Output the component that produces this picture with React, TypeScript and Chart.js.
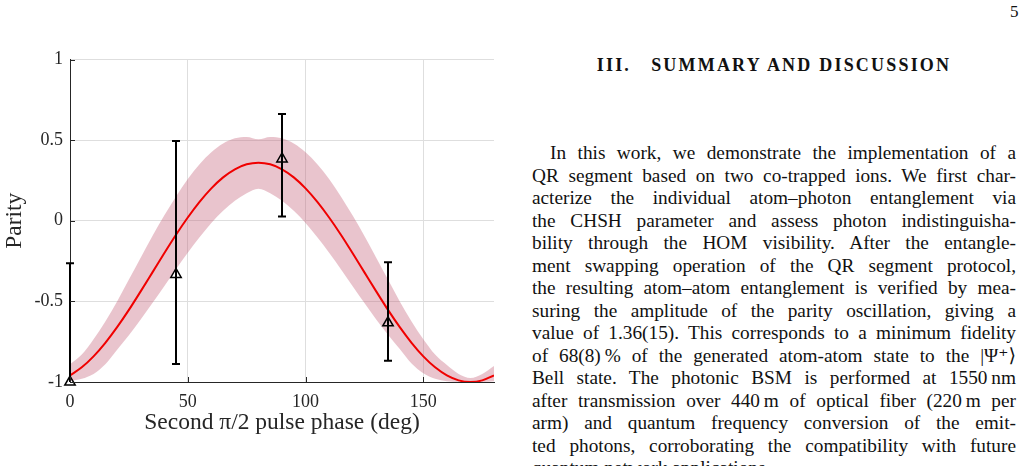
import React, { useEffect, useRef } from "react";
import { Chart, registerables } from "chart.js";

Chart.register(...registerables);

// ---- data ----
const fitX = [0, 5, 10, 15, 20, 25, 30, 35, 40, 45, 50, 55, 60, 65, 70, 75, 80, 85, 90, 95, 100, 105, 110, 115, 120, 125, 130, 135, 140, 145, 150, 155, 160, 165, 170, 175, 180];
const fitY = [-0.959, -0.909, -0.841, -0.757, -0.66, -0.553, -0.438, -0.32, -0.202, -0.087, 0.02, 0.117, 0.201, 0.269, 0.319, 0.35, 0.36, 0.35, 0.319, 0.269, 0.201, 0.117, 0.02, -0.087, -0.202, -0.32, -0.438, -0.553, -0.66, -0.757, -0.841, -0.909, -0.959, -0.99, -1.0, -0.99, -0.959];
const bandUpper = [-0.89, -0.83, -0.735, -0.625, -0.5, -0.365, -0.23, -0.095, 0.032, 0.151, 0.259, 0.351, 0.425, 0.479, 0.511, 0.52, 0.506, 0.52, 0.511, 0.479, 0.425, 0.351, 0.259, 0.151, 0.032, -0.095, -0.23, -0.365, -0.5, -0.625, -0.735, -0.83, -0.895, -0.95, -0.975, -0.95, -0.9];
const bandLower = [-0.995, -0.98, -0.95, -0.89, -0.8, -0.71, -0.612, -0.51, -0.406, -0.3, -0.198, -0.102, -0.014, 0.062, 0.124, 0.17, 0.199, 0.17, 0.124, 0.062, -0.014, -0.102, -0.198, -0.3, -0.406, -0.51, -0.612, -0.707, -0.795, -0.885, -0.945, -0.98, -0.995, -1.0, -1.0, -1.0, -0.995];

const dataX = [0, 45, 90, 135];
const dataY = [-1.0, -0.333, 0.383, -0.633];
const errTop = [-0.264, 0.494, 0.662, -0.258];
const errBottom = [-1.736, -0.889, 0.027, -0.868];

const xTicks = [0, 50, 100, 150];
const yTicks = [-1, -0.5, 0, 0.5, 1];

const xTitle = "Second \u03c0/2 pulse phase (deg)";
const yTitle = "Parity";

const paragraphLines = [
  "In this work, we demonstrate the implementation of a",
  "QR segment based on two co-trapped ions. We first char-",
  "acterize the individual atom\u2013photon entanglement via",
  "the CHSH parameter and assess photon indistinguisha-",
  "bility through the HOM visibility. After the entangle-",
  "ment swapping operation of the QR segment protocol,",
  "the resulting atom\u2013atom entanglement is verified by mea-",
  "suring the amplitude of the parity oscillation, giving a",
  "value of 1.36(15). This corresponds to a minimum fidelity",
  "of 68(8)\u2009% of the generated atom-atom state to the |\u03a8\u207a\u27e9",
  "Bell state. The photonic BSM is performed at 1550\u2009nm",
  "after transmission over 440\u2009m of optical fiber (220\u2009m per",
  "arm) and quantum frequency conversion of the emit-",
  "ted photons, corroborating the compatibility with future",
  "quantum network applications.",
];

const FONT = "'Liberation Serif', 'DejaVu Serif', serif";
const AXIS_COLOR = "#262626";

const errorBarPlugin = {
  id: "errorBars",
  afterDatasetsDraw(chart: any) {
    const { ctx, chartArea, scales } = chart;
    const xs = scales.x;
    const ys = scales.y;
    ctx.save();
    ctx.beginPath();
    ctx.rect(0, chartArea.top - 2, chart.width, chartArea.bottom - chartArea.top + 2);
    ctx.clip();
    ctx.strokeStyle = "#000";
    ctx.lineWidth = 2;
    dataX.forEach((xv, i) => {
      const px = Math.round(xs.getPixelForValue(xv));
      const pt = ys.getPixelForValue(errTop[i]);
      const pb = ys.getPixelForValue(errBottom[i]);
      ctx.beginPath();
      ctx.moveTo(px, pt);
      ctx.lineTo(px, pb);
      ctx.moveTo(px - 4, pt);
      ctx.lineTo(px + 4, pt);
      ctx.moveTo(px - 4, pb);
      ctx.lineTo(px + 4, pb);
      ctx.stroke();
    });
    ctx.restore();
  },
};

const innerTicksPlugin = {
  id: "innerTicks",
  afterDraw(chart: any) {
    const { ctx, chartArea, scales } = chart;
    ctx.save();
    ctx.strokeStyle = AXIS_COLOR;
    ctx.lineWidth = 1;
    ctx.beginPath();
    xTicks.forEach((v) => {
      const px = Math.round(scales.x.getPixelForValue(v)) + 0.5;
      ctx.moveTo(px, chartArea.bottom);
      ctx.lineTo(px, chartArea.bottom - 5);
    });
    yTicks.forEach((v) => {
      const py = Math.round(scales.y.getPixelForValue(v)) + 0.5;
      ctx.moveTo(chartArea.left, py);
      ctx.lineTo(chartArea.left + 5, py);
    });
    ctx.stroke();
    ctx.restore();
  },
};

function ParityChart() {
  const ref = useRef<HTMLCanvasElement | null>(null);
  useEffect(() => {
    if (!ref.current) return;
    const chart = new Chart(ref.current, {
      type: "line",
      data: {
        datasets: [
          {
            label: "data",
            data: dataX.map((x, i) => ({ x, y: dataY[i] })),
            showLine: false,
            pointStyle: "triangle",
            pointRadius: 6,
            pointBorderWidth: 1.5,
            pointBorderColor: "#000",
            pointBackgroundColor: "rgba(0,0,0,0)",
            borderColor: "#000",
            order: 0,
            clip: false as any,
          },
          {
            label: "fit",
            data: fitX.map((x, i) => ({ x, y: fitY[i] })),
            borderColor: "#f00000",
            borderWidth: 2,
            pointRadius: 0,
            cubicInterpolationMode: "monotone",
            fill: false,
            order: 1,
          },
          {
            label: "bandUpper",
            data: fitX.map((x, i) => ({ x, y: bandUpper[i] })),
            borderColor: "rgba(0,0,0,0)",
            borderWidth: 0,
            pointRadius: 0,
            backgroundColor: "rgba(196,100,124,0.38)",
            cubicInterpolationMode: "monotone",
            fill: "+1",
            order: 2,
          },
          {
            label: "bandLower",
            data: fitX.map((x, i) => ({ x, y: bandLower[i] })),
            borderColor: "rgba(0,0,0,0)",
            borderWidth: 0,
            pointRadius: 0,
            cubicInterpolationMode: "monotone",
            fill: false,
            order: 3,
          },
        ],
      } as any,
      options: {
        animation: false,
        responsive: false,
        events: [],
        layout: { padding: { top: 59.5, right: 16, bottom: 0, left: 0 } },
        plugins: { legend: { display: false }, tooltip: { enabled: false } },
        scales: {
          x: {
            type: "linear",
            min: 0,
            max: 180,
            afterBuildTicks: (s: any) => {
              s.ticks = xTicks.map((v) => ({ value: v }));
            },
            afterFit: (s: any) => {
              s.height = 84;
            },
            grid: { color: "#dedede", lineWidth: 1, drawTicks: false },
            border: { color: AXIS_COLOR, width: 1 },
            ticks: {
              padding: 9,
              color: AXIS_COLOR,
              maxRotation: 0,
              font: { family: FONT, size: 18 },
              callback: (v: any) => String(v),
            },
            title: {
              display: true,
              text: xTitle,
              color: AXIS_COLOR,
              font: { family: FONT, size: 23.5 },
              padding: { top: 29, bottom: 29 },
            },
          },
          y: {
            type: "linear",
            min: -1,
            max: 1,
            afterBuildTicks: (s: any) => {
              s.ticks = yTicks.map((v) => ({ value: v }));
            },
            afterFit: (s: any) => {
              s.width = 70;
            },
            grid: { color: "#dedede", lineWidth: 1, drawTicks: false },
            border: { color: AXIS_COLOR, width: 1 },
            ticks: {
              padding: 7,
              color: AXIS_COLOR,
              font: { family: FONT, size: 18 },
              callback: (v: any) => String(v),
            },
            title: {
              display: true,
              text: yTitle,
              color: AXIS_COLOR,
              font: { family: FONT, size: 23.5 },
              padding: { top: 1, bottom: 0 },
            },
          },
        },
      } as any,
      plugins: [errorBarPlugin, innerTicksPlugin],
    });
    return () => chart.destroy();
  }, []);
  return (
    <canvas
      ref={ref}
      width={510}
      height={466}
      style={{ position: "absolute", left: 0, top: 0, width: 510, height: 466 }}
    />
  );
}

export default function App() {
  return (
    <div
      style={{
        position: "fixed",
        left: 0,
        top: 0,
        width: 1028,
        height: 466,
        overflow: "hidden",
        background: "#fff",
        color: "#111",
        fontFamily: FONT,
      }}
    >
      <ParityChart />
      <div style={{ position: "absolute", left: 1010, top: 1, fontSize: 17, lineHeight: "22px" }}>5</div>
      <div
        style={{
          position: "absolute",
          left: 532,
          top: 55,
          width: 484,
          textAlign: "center",
          fontSize: 18,
          lineHeight: "20px",
          fontWeight: "bold",
          letterSpacing: "2.2px",
          whiteSpace: "pre",
        }}
      >
        {"III.   SUMMARY AND DISCUSSION"}
      </div>
      <div style={{ position: "absolute", left: 532, top: 142, width: 484, fontSize: 19.3 }}>
        {paragraphLines.map((line, i) => (
          <div
            key={i}
            style={{
              height: 22.5,
              lineHeight: "22.5px",
              whiteSpace: "nowrap",
              textAlign: i === paragraphLines.length - 1 ? "left" : "justify",
              textAlignLast: i === paragraphLines.length - 1 ? "left" : "justify",
              paddingLeft: i === 0 ? 18 : 0,
            }}
          >
            {line}
          </div>
        ))}
      </div>
    </div>
  );
}
